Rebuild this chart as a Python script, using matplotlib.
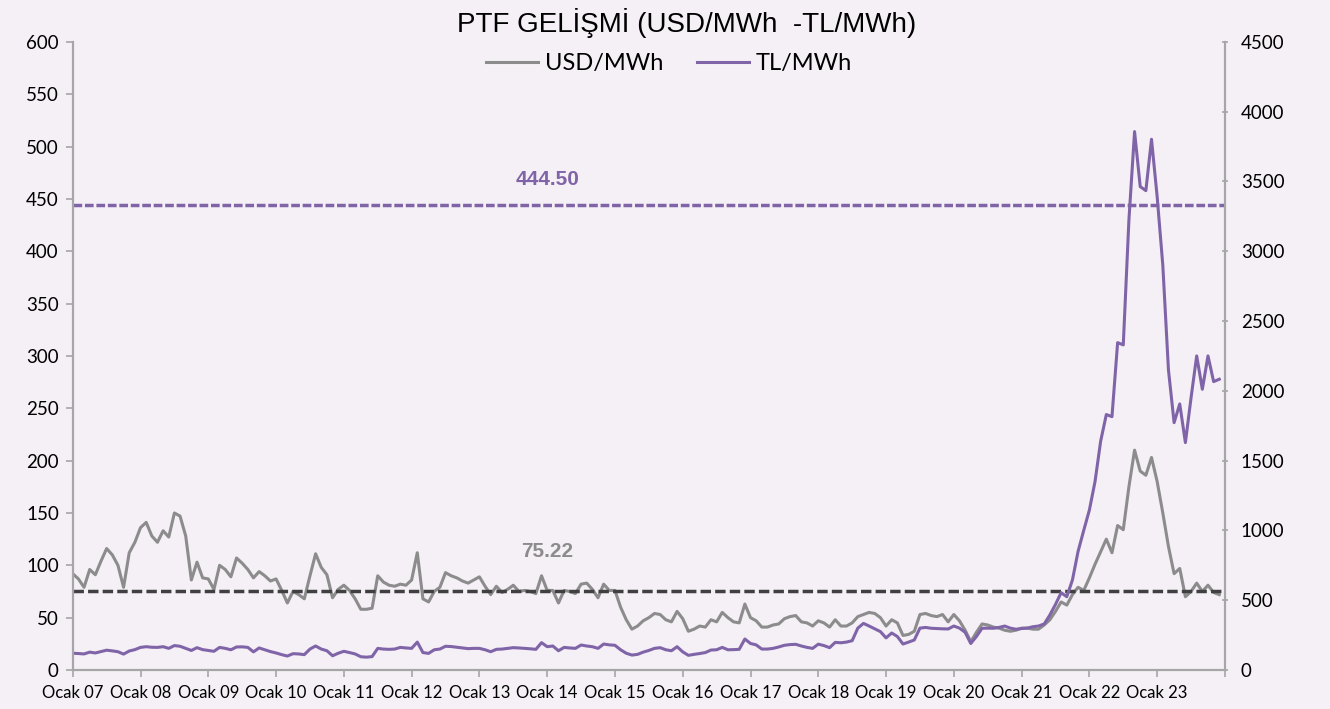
import numpy as np
import matplotlib.pyplot as plt

# monthly PTF, Jan 2007 - Dec 2023
usd = [92, 87, 79, 96, 91, 104, 116, 110, 100, 79, 112, 122,
       136, 141, 128, 122, 133, 127, 150, 147, 128, 86, 103, 88,
       87, 77, 100, 96, 89, 107, 102, 96, 88, 94, 90, 85,
       87, 76, 64, 75, 72, 68, 90, 111, 98, 91, 69, 77,
       81, 76, 68, 58, 58, 59, 90, 84, 81, 80, 82, 81,
       86, 112, 68, 65, 75, 79, 93, 90, 88, 85, 83, 86,
       89, 80, 72, 80, 74, 77, 81, 75, 76, 75, 73, 90,
       76, 76, 64, 76, 75, 73, 82, 83, 77, 69, 82, 76,
       76, 60, 48, 39, 42, 47, 50, 54, 53, 48, 46, 56,
       49, 37, 39, 42, 41, 48, 46, 55, 50, 46, 45, 63,
       50, 47, 41, 41, 43, 44, 49, 51, 52, 46, 45, 42,
       47, 45, 41, 48, 42, 42, 45, 51, 53, 55, 54, 50,
       42, 48, 45, 33, 34, 37, 53, 54, 52, 51, 53, 46,
       53, 47, 38, 27, 36, 44, 43, 41, 40, 38, 37, 38,
       40, 40, 39, 39, 43, 48, 56, 65, 62, 72, 79, 76,
       88, 101, 113, 125, 112, 138, 134, 175, 210, 190, 186, 203,
       180, 150, 118, 92, 97, 70, 75, 83, 75, 81, 74, 72]

tl = [120, 118, 115, 128, 122, 132, 142, 137, 131, 114, 136, 146,
      162, 167, 163, 162, 167, 155, 175, 170, 155, 140, 160, 146,
      140, 134, 162, 155, 145, 165, 166, 162, 130, 158, 145, 132,
      122, 110, 100, 117, 115, 110, 150, 172, 150, 138, 102, 120,
      134, 125, 115, 95, 92, 96, 155, 150, 148, 150, 162, 158,
      155, 200, 125, 119, 145, 150, 170, 168, 163, 158, 153, 155,
      155, 145, 131, 148, 150, 155, 160, 158, 155, 152, 148, 196,
      167, 172, 138, 162, 158, 155, 179, 172, 167, 155, 186, 180,
      177, 145, 120, 107, 112, 128, 140, 155, 160, 145, 138, 167,
      130, 105, 112, 118, 125, 143, 145, 162, 145, 146, 148, 222,
      190, 180, 150, 150, 155, 165, 177, 182, 184, 172, 162, 155,
      185, 175, 160, 198, 195, 200, 210, 300, 334, 315, 295, 275,
      230, 265, 240, 186, 200, 215, 300, 305, 299, 297, 295, 294,
      315, 300, 270, 190, 240, 299, 300, 299, 305, 315, 300, 292,
      297, 300, 310, 315, 330, 394, 470, 554, 525, 645, 850, 1000,
      1146, 1350, 1640, 1830, 1815, 2345, 2329, 3224, 3857, 3463, 3434, 3802,
      3391, 2900, 2150, 1772, 1906, 1629, 1950, 2250, 2011, 2250, 2066, 2083]

usd_avg = 75.22
tl_avg = 444.50
years = ['Ocak %02d' % y for y in range(7, 24)]

bg = '#F5EFF6'
grey = '#8C8C8C'
purple = '#8064A8'

plt.rcParams['font.family'] = ['Lato', 'DejaVu Sans']

fig = plt.figure(figsize=(13.3, 7.09), dpi=100, facecolor=bg)
ax = fig.add_axes([0.0547, 0.055, 0.8663, 0.886])
ax.set_facecolor(bg)
ax2 = ax.twinx()

m = np.arange(len(usd))
ax.plot(m, usd, color=grey, lw=2.2, label='USD/MWh')
ax2.plot(m, tl, color=purple, lw=2.2, label='TL/MWh')

# average lines with their labels
ax.axhline(usd_avg, color='#404040', lw=2.5, ls=(0, (3, 1.2)))
ax.axhline(tl_avg, color=purple, lw=2.5, ls=(0, (2.5, 0.8)))
ax.text(84, tl_avg + 15, '%.2f' % tl_avg, color=purple, fontsize=15,
        fontweight='bold', family='Liberation Sans', ha='center', va='bottom')
ax.text(84, usd_avg + 29, '%.2f' % usd_avg, color=grey, fontsize=15,
        fontweight='bold', family='Liberation Sans', ha='center', va='bottom')

ax.set_xlim(0, 204)
ax.set_ylim(0, 600)
ax2.set_ylim(0, 4500)
ax.set_yticks(np.arange(0, 601, 50))
ax2.set_yticks(np.arange(0, 4501, 500))
ax.set_xticks(np.arange(0, 205, 12))
ax.set_xticklabels(years + [''])

for a in (ax, ax2):
    for s in a.spines.values():
        s.set_color('#A6A6A6')
        s.set_linewidth(1.5)
    a.spines['top'].set_visible(False)
ax.tick_params(axis='both', color='#A6A6A6', length=5, width=1.2)
ax.tick_params(axis='x', labelsize=12, pad=6)
ax.tick_params(axis='y', labelsize=13.5, pad=5)
ax2.tick_params(axis='y', labelsize=13.5, color='#A6A6A6', length=5, width=1.2,
                direction='inout', pad=9)

h1, l1 = ax.get_legend_handles_labels()
h2, l2 = ax2.get_legend_handles_labels()
fig.legend(h1 + h2, l1 + l2, loc='center', bbox_to_anchor=(0.503, 0.91), ncol=2,
           frameon=False, fontsize=17, handlelength=2.2, columnspacing=1.4,
           handletextpad=0.3)

fig.text(0.516, 0.968, 'PTF GELİŞMİ (USD/MWh  -TL/MWh)', ha='center', va='center',
         fontsize=20, family='Liberation Sans')

fig.savefig('out.png', dpi=100, facecolor=bg)
